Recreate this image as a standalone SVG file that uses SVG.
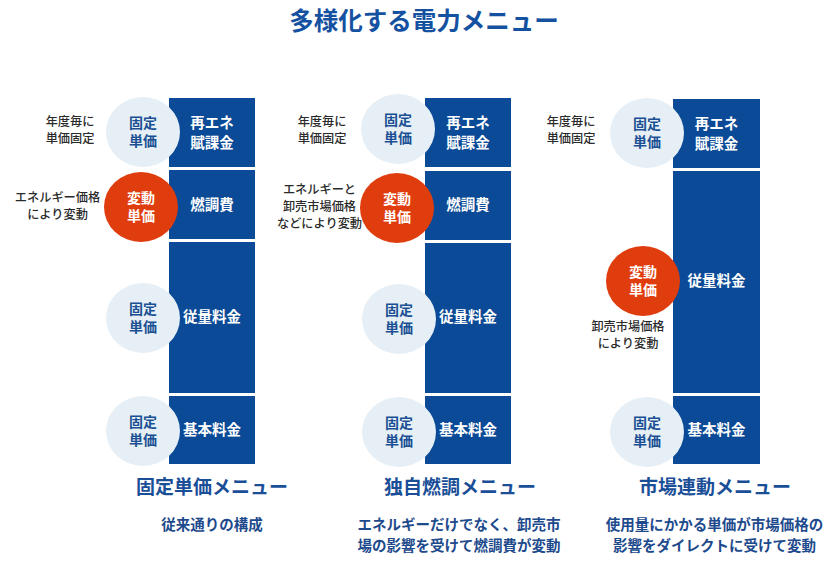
<svg xmlns="http://www.w3.org/2000/svg" width="840" height="564" viewBox="0 0 840 564">
<style>
text{font-family:"Noto Sans CJK JP","Noto Sans",sans-serif;text-anchor:middle}
.bar{fill:#0b4a96}
.fix{fill:#e6eff6}
.var{fill:#df3d0e}
.bt{fill:#ffffff;font-size:14.5px;font-weight:bold}
.ft{fill:#1b4f93;font-size:14px;font-weight:bold}
.vt{fill:#ffffff;font-size:14px;font-weight:bold}
.lb{fill:#2a2a2a;font-size:12.2px;font-weight:500}
.mt{fill:#1a4f98;font-size:19px;font-weight:bold}
.st{fill:#1d4a8c;font-size:14.5px;font-weight:bold}
.title{fill:#1451a0;font-size:24.5px;font-weight:bold}
</style>
<rect width="840" height="564" fill="#ffffff"/>
<text class="title" x="424" y="30">多様化する電力メニュー</text>

<g id="col-fixed">
  <g id="c1-bars">
    <rect class="bar" x="169" y="98" width="86" height="69"/>
    <rect class="bar" x="169" y="170" width="86" height="69"/>
    <rect class="bar" x="169" y="242" width="86" height="151"/>
    <rect class="bar" x="169" y="396" width="86" height="68"/>
    <text class="bt" y="128"><tspan x="212">再エネ</tspan><tspan x="212" dy="19.5">賦課金</tspan></text>
    <text class="bt" x="212" y="210">燃調費</text>
    <text class="bt" x="212" y="322">従量料金</text>
    <text class="bt" x="212" y="435">基本料金</text>
  </g>
  <g id="c1-n1">
    <ellipse class="fix" cx="143" cy="132" rx="37" ry="35"/>
    <text class="ft" y="127.5"><tspan x="143">固定</tspan><tspan x="143" dy="18.5">単価</tspan></text>
  </g>
  <g id="c1-n2">
    <ellipse class="var" cx="141" cy="207" rx="37" ry="35"/>
    <text class="vt" y="202.5"><tspan x="141">変動</tspan><tspan x="141" dy="18.5">単価</tspan></text>
  </g>
  <g id="c1-n3">
    <ellipse class="fix" cx="143" cy="318" rx="37" ry="35"/>
    <text class="ft" y="313.5"><tspan x="143">固定</tspan><tspan x="143" dy="18.5">単価</tspan></text>
  </g>
  <g id="c1-n4">
    <ellipse class="fix" cx="143" cy="431" rx="37" ry="35"/>
    <text class="ft" y="426.5"><tspan x="143">固定</tspan><tspan x="143" dy="18.5">単価</tspan></text>
  </g>
  <text class="lb" y="125.5"><tspan x="70">年度毎に</tspan><tspan x="70" dy="17">単価固定</tspan></text>
  <text class="lb" y="202"><tspan x="57.5">エネルギー価格</tspan><tspan x="57.5" dy="17">により変動</tspan></text>
  <text class="mt" x="212" y="494">固定単価メニュー</text>
  <text class="st" x="212" y="529.5">従来通りの構成</text>
</g>

<g id="col-fuel">
  <g id="c2-bars">
    <rect class="bar" x="425" y="98" width="86" height="69"/>
    <rect class="bar" x="425" y="171" width="86" height="69"/>
    <rect class="bar" x="425" y="243" width="86" height="150"/>
    <rect class="bar" x="425" y="396" width="86" height="68"/>
    <text class="bt" y="128"><tspan x="468">再エネ</tspan><tspan x="468" dy="19.5">賦課金</tspan></text>
    <text class="bt" x="468" y="210">燃調費</text>
    <text class="bt" x="468" y="322">従量料金</text>
    <text class="bt" x="468" y="435">基本料金</text>
  </g>
  <g id="c2-n1">
    <ellipse class="fix" cx="398" cy="129" rx="37" ry="35"/>
    <text class="ft" y="124.5"><tspan x="398">固定</tspan><tspan x="398" dy="18.5">単価</tspan></text>
  </g>
  <g id="c2-n2">
    <ellipse class="var" cx="397" cy="208" rx="37" ry="35"/>
    <text class="vt" y="203.5"><tspan x="397">変動</tspan><tspan x="397" dy="18.5">単価</tspan></text>
  </g>
  <g id="c2-n3">
    <ellipse class="fix" cx="399" cy="319" rx="37" ry="35"/>
    <text class="ft" y="314.5"><tspan x="399">固定</tspan><tspan x="399" dy="18.5">単価</tspan></text>
  </g>
  <g id="c2-n4">
    <ellipse class="fix" cx="399" cy="432" rx="37" ry="35"/>
    <text class="ft" y="427.5"><tspan x="399">固定</tspan><tspan x="399" dy="18.5">単価</tspan></text>
  </g>
  <text class="lb" y="125.5"><tspan x="322">年度毎に</tspan><tspan x="322" dy="17">単価固定</tspan></text>
  <text class="lb" y="194"><tspan x="319.5">エネルギーと</tspan><tspan x="319.5" dy="17">卸売市場価格</tspan><tspan x="319.5" dy="17">などにより変動</tspan></text>
  <text class="mt" x="460" y="494">独自燃調メニュー</text>
  <text class="st" y="529.5"><tspan x="459">エネルギーだけでなく、卸売市</tspan><tspan x="459" dy="21">場の影響を受けて燃調費が変動</tspan></text>
</g>

<g id="col-market">
  <g id="c3-bars">
    <rect class="bar" x="673" y="99" width="87" height="69"/>
    <rect class="bar" x="673" y="171" width="87" height="222"/>
    <rect class="bar" x="673" y="396" width="87" height="68"/>
    <text class="bt" y="129"><tspan x="716.5">再エネ</tspan><tspan x="716.5" dy="19.5">賦課金</tspan></text>
    <text class="bt" x="716.5" y="286">従量料金</text>
    <text class="bt" x="716.5" y="435">基本料金</text>
  </g>
  <g id="c3-n1">
    <ellipse class="fix" cx="647" cy="133" rx="37" ry="35"/>
    <text class="ft" y="128.5"><tspan x="647">固定</tspan><tspan x="647" dy="18.5">単価</tspan></text>
  </g>
  <g id="c3-n2">
    <ellipse class="var" cx="643" cy="281" rx="37" ry="35"/>
    <text class="vt" y="276.5"><tspan x="643">変動</tspan><tspan x="643" dy="18.5">単価</tspan></text>
  </g>
  <g id="c3-n3">
    <ellipse class="fix" cx="647" cy="432" rx="37" ry="35"/>
    <text class="ft" y="427.5"><tspan x="647">固定</tspan><tspan x="647" dy="18.5">単価</tspan></text>
  </g>
  <text class="lb" y="125.5"><tspan x="571">年度毎に</tspan><tspan x="571" dy="17">単価固定</tspan></text>
  <text class="lb" y="330.5"><tspan x="628">卸売市場価格</tspan><tspan x="628" dy="17">により変動</tspan></text>
  <text class="mt" x="715" y="494">市場連動メニュー</text>
  <text class="st" y="529.5"><tspan x="714.5">使用量にかかる単価が市場価格の</tspan><tspan x="714.5" dy="21">影響をダイレクトに受けて変動</tspan></text>
</g>
</svg>
